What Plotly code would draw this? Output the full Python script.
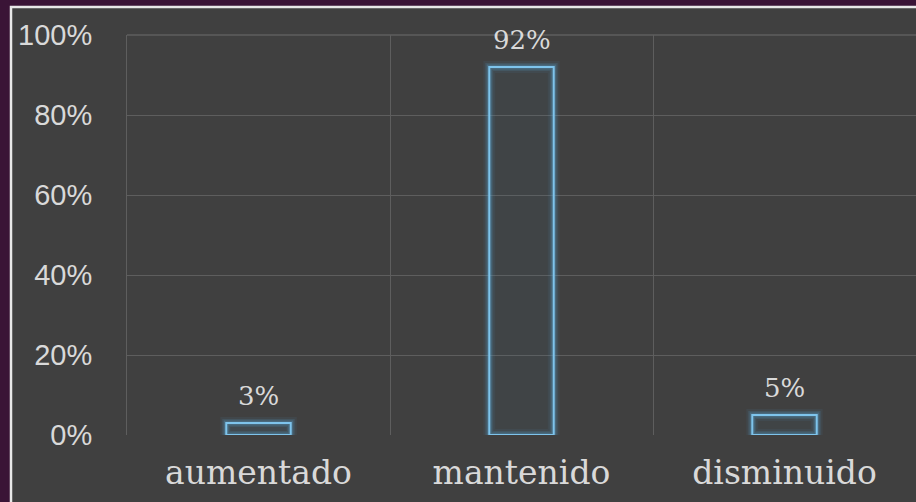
import plotly.graph_objects as go

categories = ["aumentado", "mantenido", "disminuido"]
values = [3, 92, 5]
value_labels = ["3%", "92%", "5%"]
y_ticks = [0, 20, 40, 60, 80, 100]
y_tick_labels = ["0%", "20%", "40%", "60%", "80%", "100%"]

xs = list(range(len(categories)))
fig = go.Figure()

# glow layers
for w, a in [(12, 0.07), (8, 0.14), (5, 0.25)]:
    fig.add_trace(go.Bar(
        x=xs, y=values, width=0.245,
        marker=dict(color="rgba(0,0,0,0)", line=dict(color=f"rgba(90,170,220,{a})", width=w)),
        hoverinfo="skip", showlegend=False,
    ))

fig.add_trace(go.Bar(
    x=xs, y=values, width=0.245,
    marker=dict(color="rgba(70,110,130,0.10)", line=dict(color="#7ec4ec", width=2)),
    showlegend=False,
))

annotations = [
    dict(x=x, y=v, text=t, xref="x", yref="y", showarrow=False, yanchor="bottom",
         yshift=10, font=dict(family="DejaVu Serif", size=26, color="#d9d9d9"))
    for x, v, t in zip(xs, values, value_labels)
]

fig.update_layout(
    width=916, height=502,
    barmode="overlay",
    paper_bgcolor="#3a1436",
    plot_bgcolor="rgba(0,0,0,0)",
    margin=dict(l=127, r=0, t=35, b=67),
    annotations=annotations,
    shapes=[
        dict(type="rect", xref="paper", yref="paper",
             x0=-116/789, x1=1.05, y0=-0.2, y1=1 + 28/400,
             fillcolor="#404040", line=dict(color="#e8e8e8", width=2.5), layer="below"),
        dict(type="line", xref="paper", yref="paper", x0=0, x1=1, y0=1, y1=1,
             line=dict(color="#5e5e5e", width=1.5), layer="below"),
    ],
    xaxis=dict(
        range=[-0.5, 2.5], tickvals=xs, ticktext=categories,
        showgrid=False, zeroline=False, showline=False,
        tickfont=dict(family="DejaVu Serif", size=33, color="#d9d9d9"),
        ticks="outside", ticklen=8, tickcolor="rgba(0,0,0,0)",
        minor=dict(tickvals=[-0.5, 0.5, 1.5, 2.5], showgrid=True, gridcolor="#5e5e5e", gridwidth=1, ticks=""),
    ),
    yaxis=dict(
        range=[0, 100], tickvals=y_ticks, ticktext=y_tick_labels,
        showgrid=True, gridcolor="#5e5e5e", gridwidth=1, zeroline=False,
        showline=True, linecolor="#5e5e5e", linewidth=1,
        tickfont=dict(family="Liberation Sans", size=29, color="#d9d9d9"),
        ticks="outside", ticklen=28, tickcolor="rgba(0,0,0,0)",
    ),
)

fig.write_html("out.html", config={"displayModeBar": False},
               post_script="document.body.style.margin='0';document.body.style.overflow='hidden';")
